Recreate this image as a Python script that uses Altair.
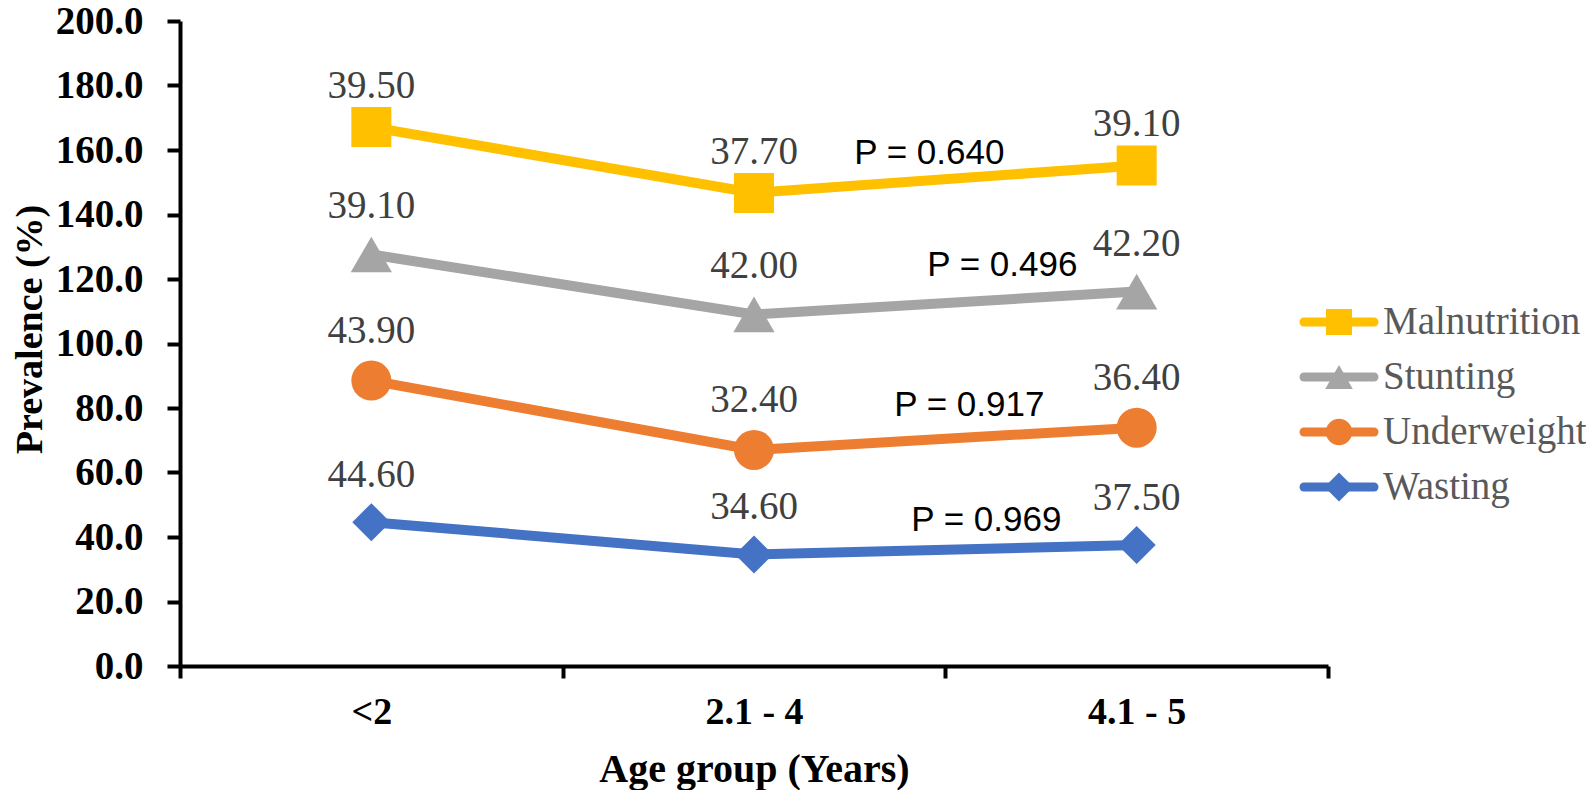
import altair as alt
import pandas as pd

categories = ["<2", "2.1 - 4", "4.1 - 5"]
series = ["Malnutrition", "Stunting", "Underweight", "Wasting"]
# individual (stacked) series values, bottom-up stacking: Wasting, Underweight, Stunting, Malnutrition
wasting = [44.6, 34.6, 37.5]
underweight = [43.9, 32.4, 36.4]
stunting = [39.1, 42.0, 42.2]
malnutrition = [39.5, 37.7, 39.1]
p_labels = ["P = 0.640", "P = 0.496", "P = 0.917", "P = 0.969"]

colors = ["#FFC000", "#A5A5A5", "#ED7D31", "#4472C4"]
shapes = ["square", "triangle-up", "circle", "diamond"]
sizes = [1600, 1700, 1600, 1450]
legend_sizes = [676, 760, 700, 840]
label_dy = [-41, -48, -50, -47]
p_dx = [-16, 57, 24, 41]
p_dy = [-26, -38, -34, -30]

values = {"Wasting": wasting, "Underweight": underweight,
          "Stunting": stunting, "Malnutrition": malnutrition}
stack_order = ["Wasting", "Underweight", "Stunting", "Malnutrition"]

rows = []
running = [0.0] * len(categories)
for s in stack_order:
    for i, c in enumerate(categories):
        running[i] += values[s][i]
        rows.append({"series": s, "cat": c, "idx": i + 0.5,
                     "value": values[s][i], "cum": round(running[i], 2),
                     "label": f"{values[s][i]:.2f}"})
df = pd.DataFrame(rows)

prow = []
for k, s in enumerate(series):
    sub = df[df.series == s]
    prow.append({"series": s, "p": p_labels[k],
                 "x": sub.idx.iloc[1:].mean(), "y": sub.cum.iloc[1:].mean()})
pdf = pd.DataFrame(prow)
legdf = pd.DataFrame({"series": series})

W, H = 1148, 645
xscale = alt.Scale(domain=[0, len(categories)], nice=False, zero=False)
yscale = alt.Scale(domain=[0, 200], nice=False)
cscale = alt.Scale(domain=series, range=colors)

label_expr = ("datum.value % 1 == 0.5 ? " + str(categories) +
              "[floor(datum.value)] : ''")

xaxis = alt.Axis(
    values=[i * 0.5 for i in range(2 * len(categories) + 1)],
    labelExpr=label_expr, labelOverlap=False, labelFlush=False,
    labelFont="Liberation Serif", labelFontSize=38, labelFontWeight="bold",
    labelColor="black", labelPadding=15,
    tickOpacity={"condition": {"test": "datum.value % 1 == 0", "value": 1}, "value": 0},
    tickSize=12, tickWidth=4, tickColor="black",
    domainWidth=4, domainColor="black", grid=False,
    title="Age group (Years)", titleFont="Liberation Serif", titleFontSize=40,
    titleFontWeight="bold", titleColor="black", titlePadding=18)

yaxis = alt.Axis(
    values=list(range(0, 201, 20)), format=".1f",
    labelFont="Liberation Serif", labelFontSize=39, labelFontWeight="bold",
    labelColor="black", labelPadding=24,
    tickSize=13, tickWidth=4, tickColor="black",
    domainWidth=4, domainColor="black", grid=False,
    title="Prevalence (%)", titleFont="Liberation Serif", titleFontSize=38,
    titleFontWeight="bold", titleColor="black", titlePadding=6, titleY=308)

base = alt.Chart(df)

lines = base.mark_line(strokeWidth=10, strokeCap="round").encode(
    x=alt.X("idx:Q", scale=xscale, axis=xaxis),
    y=alt.Y("cum:Q", scale=yscale, axis=yaxis),
    stroke=alt.Stroke("series:N", scale=cscale, legend=None),
    detail="series:N",
)

main_layers = [lines]
for k, s in enumerate(series):
    main_layers.append(base.transform_filter(alt.datum.series == s).mark_point(
        filled=True, shape=shapes[k], size=sizes[k], opacity=1,
        color=colors[k]).encode(x="idx:Q", y="cum:Q"))
    main_layers.append(base.transform_filter(alt.datum.series == s).mark_text(
        font="Liberation Serif", fontSize=39, color="#404040",
        baseline="middle", dy=label_dy[k]).encode(
        x="idx:Q", y="cum:Q", text="label:N"))
    main_layers.append(alt.Chart(pdf).transform_filter(alt.datum.series == s).mark_text(
        font="Liberation Sans", fontSize=35, color="black",
        baseline="middle", dx=p_dx[k], dy=p_dy[k]).encode(
        x="x:Q", y="y:Q", text="p:N"))
main = alt.layer(*main_layers)

# legend drawn as marks (series rows on a point scale, to the right of the plot)
ly = alt.Y("series:N", scale=alt.Scale(type="point", domain=series,
                                       range=[301, 466], padding=0), axis=None)
lbase = alt.Chart(legdf)
leg_layers = [lbase.mark_rule(strokeWidth=9, strokeCap="round").encode(
    x=alt.value(1124), x2=alt.value(1194), y=ly,
    color=alt.Color("series:N", scale=cscale, legend=None))]
for k, s in enumerate(series):
    leg_layers.append(lbase.transform_filter(alt.datum.series == s).mark_point(
        filled=True, shape=shapes[k], size=legend_sizes[k], opacity=1,
        color=colors[k]).encode(x=alt.value(1159), y=ly))
leg_layers.append(lbase.mark_text(
    font="Liberation Serif", fontSize=39, color="#595959",
    align="left", baseline="middle").encode(
    x=alt.value(1203), y=ly, text="series:N"))
legend = alt.layer(*leg_layers)

chart = alt.layer(main, legend).resolve_scale(y="independent").properties(
    width=W, height=H,
    background="white",
    autosize=alt.AutoSizeParams(type="none"),
    padding={"left": 172, "top": 13, "right": 258, "bottom": 124},
).configure_view(strokeWidth=0)

chart.save("out.html", embed_options={"renderer": "svg", "actions": False})
